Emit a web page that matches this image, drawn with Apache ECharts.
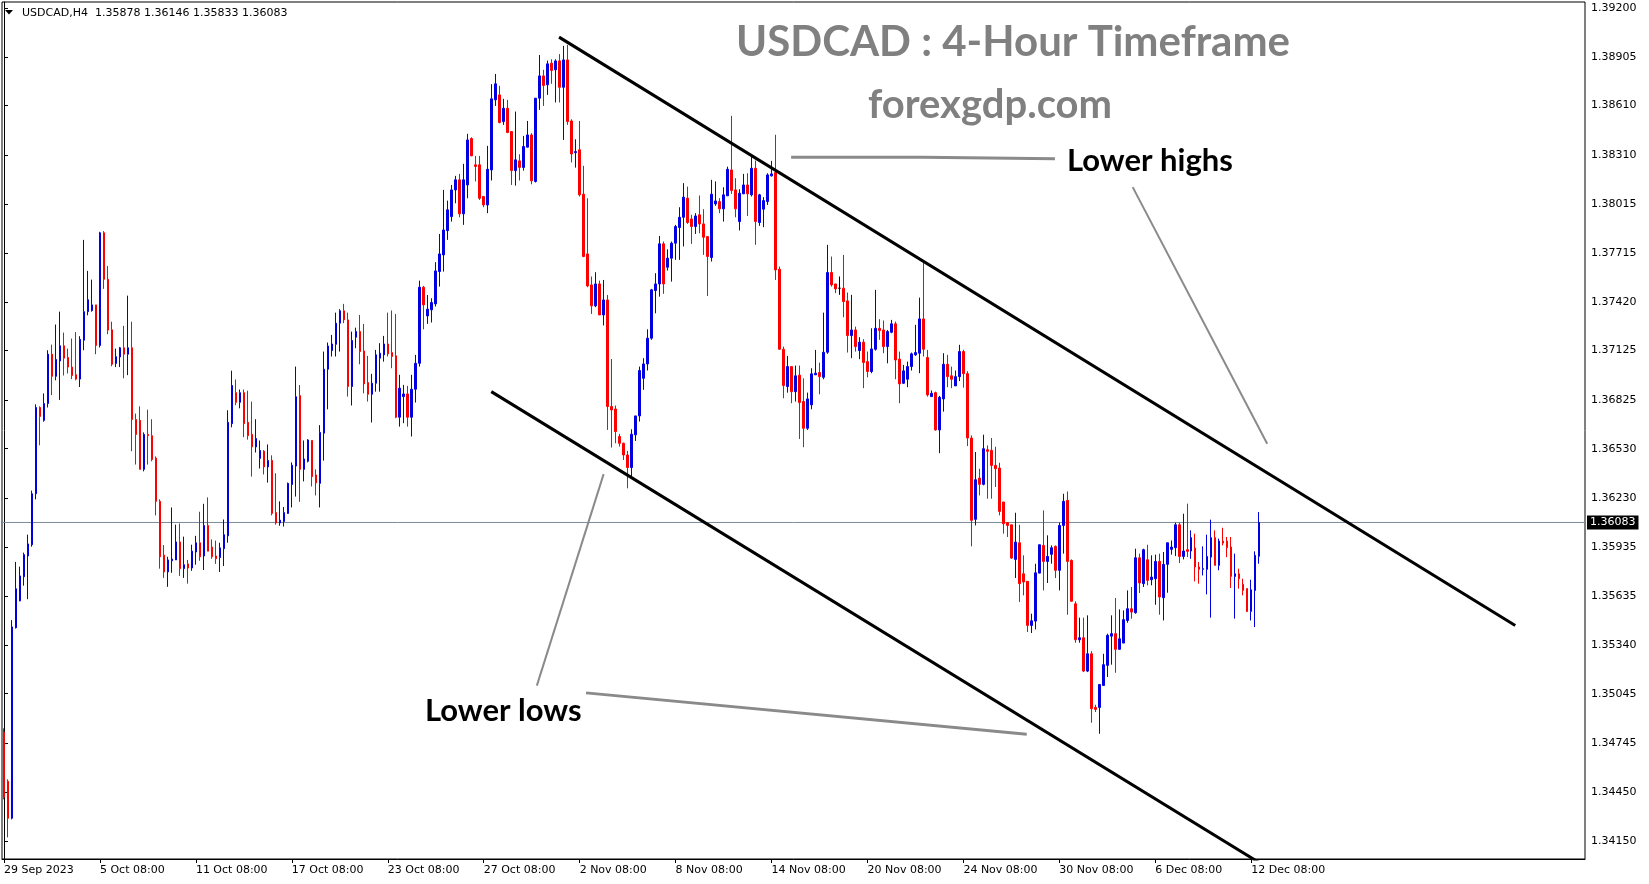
<!DOCTYPE html>
<html><head><meta charset="utf-8">
<script src="https://cdn.jsdelivr.net/npm/echarts@6/dist/echarts.min.js"></script>
<style>html,body{margin:0;padding:0;background:#fff}#chart{width:1649px;height:884px}</style>
</head><body><div id="chart"></div>
<script>
// ---- OHLC data (USDCAD H4) ----
const openP = [
1.34811,1.34514,1.34290,1.35445,1.35608,1.35754,1.35880,1.35948,1.36257,1.36780,
1.36702,1.36804,1.37103,1.36969,1.37062,1.37154,1.37083,1.37025,1.36979,1.36952,
1.37188,1.37361,1.37368,1.37402,1.37156,1.37839,1.37557,1.37251,1.37047,1.37086,
1.37142,1.37103,1.37142,1.36707,1.36702,1.36405,1.36617,1.36609,1.36473,1.36211,
1.35885,1.35783,1.35851,1.35856,1.35965,1.35803,1.35832,1.35807,1.35904,1.35960,
1.35880,1.36065,1.35934,1.35880,1.35870,1.35924,1.36002,1.36682,1.36870,1.36811,
1.36870,1.36690,1.36617,1.36541,1.36471,1.36515,1.36420,1.36459,1.36143,1.36080,
1.36089,1.36138,1.36313,1.36425,1.36852,1.36405,1.36454,1.36580,1.36371,1.36320,
1.36624,1.37012,1.37125,1.37163,1.37291,1.37366,1.37311,1.36907,1.37206,1.37240,
1.37123,1.36931,1.36860,1.36927,1.37079,1.37099,1.37165,1.37113,1.37093,1.36721,
1.36846,1.36862,1.36721,1.36891,1.37048,1.37509,1.37335,1.37372,1.37408,1.37604,
1.37705,1.37852,1.37937,1.38099,1.38160,1.37954,1.38129,1.38410,1.38251,1.38251,
1.38059,1.38008,1.38220,1.38645,1.38675,1.38513,1.38594,1.38453,1.38216,1.38275,
1.38235,1.38358,1.38432,1.38150,1.38655,1.38790,1.38736,1.38867,1.38827,1.38881,
1.38721,1.38887,1.38517,1.38325,1.38342,1.38073,1.37711,1.37523,1.37396,1.37529,
1.37341,1.37432,1.36786,1.36771,1.36604,1.36563,1.36492,1.36416,1.36614,1.36729,
1.36957,1.37044,1.37200,1.37489,1.37529,1.37772,1.37630,1.37685,1.37776,1.37871,
1.37933,1.38049,1.37923,1.37877,1.37948,1.37893,1.37816,1.37689,1.38014,1.38028,
1.37984,1.38063,1.38220,1.38099,1.37907,1.38075,1.38129,1.38069,1.38230,1.37901,
1.37982,1.38028,1.38184,1.38204,1.37618,1.37133,1.36907,1.37028,1.36876,1.36976,
1.36816,1.36654,1.36796,1.36978,1.36992,1.36963,1.37115,1.37598,1.37529,1.37503,
1.37503,1.37426,1.37216,1.37250,1.37125,1.37176,1.37058,1.36998,1.37133,1.37260,
1.37250,1.37149,1.37236,1.37287,1.37073,1.36927,1.36951,1.37028,1.37099,1.37109,
1.37317,1.37083,1.36846,1.36870,1.36644,1.36832,1.37042,1.36972,1.36911,1.36967,
1.37119,1.36985,1.36595,1.36102,1.36352,1.36314,1.36524,1.36520,1.36429,1.36413,
1.36207,1.36082,1.36069,1.35859,1.35960,1.35772,1.35726,1.35459,1.35485,1.35776,
1.35944,1.35847,1.35890,1.35938,1.35793,1.36065,1.36217,1.35853,1.35590,1.35372,
1.35384,1.35182,1.35287,1.34962,1.34962,1.35095,1.35217,1.35394,1.35409,1.35314,
1.35352,1.35489,1.35560,1.35536,1.35869,1.35712,1.35857,1.35736,1.35742,1.35847,
1.35627,1.35829,1.35920,1.35930,1.36069,1.35877,1.35918,1.35910,1.35928,1.35813,
1.35799,1.35799,1.35873,1.35991,1.35823,1.35970,1.35970,1.35934,1.35756,1.35772,
1.35708,1.35682,1.35544,1.35671,1.35878];
const closeP = [
1.34417,1.34290,1.35450,1.35681,1.35759,1.35888,1.35953,1.36257,1.36780,1.36726,
1.36804,1.37103,1.36969,1.37071,1.37154,1.37079,1.37025,1.36974,1.36952,1.37193,
1.37361,1.37433,1.37402,1.37156,1.37839,1.37557,1.37249,1.37042,1.37088,1.37142,
1.37103,1.37142,1.36707,1.36617,1.36405,1.36617,1.36609,1.36464,1.36211,1.35875,
1.35783,1.35856,1.35861,1.35965,1.35803,1.35827,1.35807,1.35909,1.35960,1.35875,
1.36065,1.35909,1.35875,1.35863,1.35929,1.36009,1.36690,1.36913,1.36811,1.36870,
1.36682,1.36609,1.36541,1.36592,1.36520,1.36420,1.36459,1.36138,1.36080,1.36097,
1.36143,1.36320,1.36430,1.36845,1.36405,1.36468,1.36583,1.36361,1.36323,1.36629,
1.37012,1.37153,1.37165,1.37291,1.37366,1.37311,1.36907,1.37186,1.37240,1.37119,
1.36923,1.36860,1.36927,1.37099,1.37109,1.37165,1.37105,1.37089,1.36721,1.36897,
1.36862,1.36721,1.36891,1.37048,1.37509,1.37402,1.37376,1.37416,1.37608,1.37711,
1.37856,1.37978,1.38099,1.38160,1.37954,1.38160,1.38402,1.38305,1.38241,1.38048,
1.38008,1.38224,1.38651,1.38742,1.38507,1.38594,1.38447,1.38216,1.38281,1.38235,
1.38362,1.38432,1.38154,1.38655,1.38790,1.38732,1.38863,1.38823,1.38881,1.38721,
1.38887,1.38513,1.38317,1.38331,1.38069,1.37695,1.37517,1.37396,1.37529,1.37341,
1.37432,1.36786,1.36765,1.36634,1.36563,1.36492,1.36416,1.36618,1.36729,1.37004,
1.37044,1.37200,1.37493,1.37529,1.37772,1.37529,1.37685,1.37776,1.37877,1.37933,
1.38055,1.37901,1.37877,1.37941,1.37893,1.37812,1.37695,1.38073,1.38032,1.37984,
1.38069,1.38224,1.38095,1.37984,1.38079,1.38129,1.38075,1.38230,1.37907,1.38069,
1.38034,1.38190,1.38196,1.37614,1.37133,1.36913,1.37028,1.36876,1.36972,1.36810,
1.36654,1.36832,1.36984,1.36988,1.36967,1.37115,1.37598,1.37523,1.37499,1.37503,
1.37422,1.37216,1.37250,1.37149,1.37176,1.37052,1.36998,1.37135,1.37260,1.37246,
1.37149,1.37240,1.37287,1.37068,1.36923,1.37002,1.37028,1.37105,1.37113,1.37317,
1.37133,1.36856,1.36866,1.36644,1.36842,1.37042,1.36967,1.36951,1.36967,1.37119,
1.36985,1.36595,1.36096,1.36342,1.36314,1.36530,1.36514,1.36429,1.36409,1.36150,
1.36075,1.36065,1.35867,1.35964,1.35712,1.35722,1.35459,1.35487,1.35778,1.35948,
1.35847,1.35877,1.35930,1.35793,1.36065,1.36211,1.35847,1.35605,1.35372,1.35384,
1.35182,1.35287,1.34954,1.34950,1.35101,1.35221,1.35399,1.35409,1.35314,1.35378,
1.35494,1.35560,1.35540,1.35869,1.35716,1.35918,1.35732,1.35752,1.35847,1.35631,
1.35829,1.35960,1.35934,1.36069,1.35877,1.35910,1.35908,1.35991,1.35813,1.35799,
1.35803,1.35877,1.35991,1.35823,1.35970,1.35958,1.35930,1.35756,1.35772,1.35742,
1.35671,1.35544,1.35675,1.35884,1.36083];
const lowP = [
1.34405,1.34174,1.34283,1.35440,1.35605,1.35700,1.35618,1.35936,1.36223,1.36551,
1.36694,1.36780,1.36855,1.36945,1.36826,1.36974,1.36986,1.36952,1.36945,1.36904,
1.37127,1.37339,1.37361,1.37103,1.37144,1.37499,1.37224,1.37030,1.37025,1.37025,
1.36957,1.36976,1.36515,1.36434,1.36405,1.36393,1.36434,1.36454,1.36126,1.35803,
1.35747,1.35693,1.35778,1.35856,1.35759,1.35747,1.35712,1.35790,1.35827,1.35851,
1.35795,1.35909,1.35863,1.35832,1.35783,1.35819,1.35960,1.36660,1.36794,1.36775,
1.36600,1.36585,1.36361,1.36507,1.36410,1.36374,1.36325,1.36126,1.36070,1.36063,
1.36058,1.36135,1.36174,1.36240,1.36208,1.36332,1.36447,1.36301,1.36247,1.36174,
1.36458,1.36769,1.37089,1.37089,1.37119,1.37291,1.36846,1.36792,1.37139,1.37042,
1.36866,1.36816,1.36689,1.36876,1.36876,1.37058,1.37089,1.37018,1.36715,1.36664,
1.36685,1.36664,1.36604,1.36810,1.37028,1.37254,1.37287,1.37295,1.37392,1.37513,
1.37604,1.37796,1.37907,1.38018,1.37933,1.37887,1.38048,1.38305,1.38150,1.38038,
1.37994,1.37958,1.38156,1.38608,1.38503,1.38493,1.38443,1.38129,1.38125,1.38156,
1.38216,1.38358,1.38133,1.38144,1.38584,1.38608,1.38675,1.38742,1.38629,1.38629,
1.38402,1.38493,1.38265,1.38234,1.38059,1.37691,1.37509,1.37347,1.37388,1.37341,
1.37277,1.36644,1.36537,1.36563,1.36543,1.36462,1.36290,1.36357,1.36577,1.36695,
1.36887,1.37004,1.37190,1.37351,1.37452,1.37469,1.37610,1.37543,1.37675,1.37675,
1.37756,1.37893,1.37772,1.37832,1.37836,1.37705,1.37456,1.37665,1.38002,1.37958,
1.37907,1.38063,1.38075,1.37933,1.37853,1.38075,1.37941,1.38059,1.37766,1.37881,
1.37873,1.38008,1.38180,1.37553,1.37129,1.36836,1.36870,1.36806,1.36816,1.36589,
1.36539,1.36644,1.36769,1.36978,1.36860,1.36951,1.37105,1.37513,1.37473,1.37463,
1.37327,1.37113,1.37079,1.37119,1.37073,1.36897,1.36963,1.36988,1.37125,1.37190,
1.37109,1.37048,1.37230,1.36951,1.36806,1.36923,1.36903,1.37004,1.37093,1.36988,
1.37089,1.36846,1.36846,1.36640,1.36503,1.36755,1.36903,1.36897,1.36911,1.36940,
1.36900,1.36546,1.35938,1.36065,1.36247,1.36308,1.36227,1.36227,1.36298,1.36126,
1.36015,1.35995,1.35863,1.35746,1.35601,1.35641,1.35419,1.35413,1.35435,1.35776,
1.35671,1.35716,1.35833,1.35746,1.35671,1.35894,1.35524,1.35605,1.35354,1.35354,
1.35176,1.35176,1.34869,1.34934,1.34802,1.35095,1.35146,1.35221,1.35172,1.35314,
1.35352,1.35475,1.35500,1.35530,1.35655,1.35692,1.35702,1.35702,1.35584,1.35524,
1.35489,1.35657,1.35888,1.35879,1.35837,1.35859,1.35873,1.35863,1.35726,1.35712,
1.35762,1.35647,1.35506,1.35823,1.35793,1.35944,1.35873,1.35686,1.35500,1.35682,
1.35641,1.35540,1.35489,1.35449,1.35833];
const highP = [
1.34835,1.34526,1.35491,1.35844,1.35815,1.35900,1.36009,1.36276,1.36799,1.36787,
1.36865,1.37127,1.37161,1.37283,1.37361,1.37234,1.37137,1.37198,1.37237,1.37212,
1.37796,1.37608,1.37555,1.37402,1.37845,1.37849,1.37638,1.37300,1.37137,1.37147,
1.37275,1.37458,1.37300,1.36743,1.36787,1.36629,1.36767,1.36709,1.36483,1.36223,
1.35946,1.35875,1.36174,1.36070,1.36077,1.35997,1.35856,1.35948,1.36002,1.36148,
1.36196,1.36235,1.35980,1.35973,1.35960,1.36101,1.36763,1.37003,1.36950,1.36889,
1.36889,1.36882,1.36816,1.36709,1.36580,1.36522,1.36556,1.36490,1.36381,1.36211,
1.36177,1.36325,1.36447,1.37028,1.36916,1.36580,1.36588,1.36580,1.36405,1.36673,
1.37119,1.37174,1.37220,1.37355,1.37376,1.37408,1.37355,1.37240,1.37264,1.37341,
1.37287,1.37093,1.36984,1.37129,1.37170,1.37214,1.37355,1.37368,1.37347,1.36978,
1.36917,1.36911,1.36978,1.37099,1.37549,1.37517,1.37462,1.37442,1.37661,1.37832,
1.38099,1.38034,1.38129,1.38184,1.38196,1.38257,1.38439,1.38418,1.38305,1.38305,
1.38059,1.38366,1.38740,1.38802,1.38730,1.38651,1.38645,1.38453,1.38574,1.38315,
1.38426,1.38517,1.38443,1.38655,1.38917,1.38827,1.38883,1.38891,1.38891,1.38922,
1.38972,1.38978,1.38527,1.38406,1.38517,1.38245,1.38048,1.37574,1.37600,1.37549,
1.37553,1.37462,1.37074,1.36792,1.36620,1.36567,1.36517,1.36648,1.36729,1.37028,
1.37079,1.37254,1.37499,1.37594,1.37820,1.37786,1.37739,1.37786,1.37887,1.37994,
1.38140,1.38119,1.37948,1.37958,1.38065,1.37982,1.37816,1.38160,1.38150,1.38049,
1.38115,1.38240,1.38548,1.38170,1.38103,1.38196,1.38200,1.38305,1.38277,1.38075,
1.38055,1.38200,1.38275,1.38433,1.37634,1.37149,1.37093,1.37028,1.37034,1.37034,
1.36957,1.36870,1.37018,1.37129,1.37052,1.37355,1.37766,1.37695,1.37529,1.37574,
1.37705,1.37477,1.37463,1.37270,1.37206,1.37194,1.37119,1.37260,1.37493,1.37315,
1.37307,1.37250,1.37311,1.37301,1.37119,1.37038,1.37058,1.37113,1.37281,1.37446,
1.37665,1.37129,1.36883,1.36876,1.36850,1.37109,1.37099,1.37028,1.37004,1.37160,
1.37130,1.37000,1.36611,1.36510,1.36409,1.36615,1.36550,1.36595,1.36542,1.36445,
1.36207,1.36086,1.36069,1.36142,1.36069,1.35884,1.35726,1.35530,1.35833,1.35948,
1.36156,1.36005,1.35944,1.35944,1.36082,1.36257,1.36271,1.35859,1.35605,1.35506,
1.35506,1.35520,1.35303,1.34978,1.35101,1.35287,1.35409,1.35520,1.35625,1.35556,
1.35550,1.35671,1.35692,1.35924,1.35894,1.35924,1.35948,1.35884,1.35888,1.35894,
1.35904,1.35960,1.35974,1.36082,1.36082,1.36136,1.36197,1.36035,1.36015,1.35843,
1.35938,1.36009,1.36100,1.36035,1.35985,1.36051,1.35995,1.35995,1.35894,1.35803,
1.35742,1.35682,1.35736,1.35908,1.36146];

// ---- axis / label content ----
const xTickLabels = ['29 Sep 2023','5 Oct 08:00','11 Oct 08:00','17 Oct 08:00','23 Oct 08:00','27 Oct 08:00',
  '2 Nov 08:00','8 Nov 08:00','14 Nov 08:00','20 Nov 08:00','24 Nov 08:00','30 Nov 08:00','6 Dec 08:00','12 Dec 08:00'];
const barsPerTick = 24;
const totalSlots = 396;   // bars plus empty chart-shift space on the right
const yTickValues = [1.39200,1.38905,1.38610,1.38310,1.38015,1.37715,1.37420,1.37125,1.36825,1.36530,
  1.36230,1.35935,1.35635,1.35340,1.35045,1.34745,1.34450,1.34150];
const yMin = 1.34043, yMax = 1.39238;
const lastPrice = 1.36083;
const lastPriceText = '1.36083';
const headerText = 'USDCAD,H4  1.35878 1.36146 1.35833 1.36083';

// drawn objects: [bar index, price]
const upperChannel = [[138.85, 1.39025], [378.05, 1.35458]];
const lowerChannel = [[121.9, 1.36876], [316.7, 1.33981]];
const grayHighsFlat = [[196.9, 1.38297], [229.9, 1.38297], [229.9, 1.38290], [262.9, 1.38288]];
const grayHighsDiag = [[282.35, 1.38116], [316.0, 1.36560]];
const grayLowsDiag = [[150.0, 1.36376], [133.3, 1.35094]];
const grayLowsFlat = [[145.6, 1.35050], [255.85, 1.34799]];
const priceLine = [[-0.5, lastPrice], [totalSlots - 0.5, lastPrice]];

const categories = Array.from({length: totalSlots}, (_, i) => String(i));
const candles = openP.map((o, i) => [o, closeP[i], lowP[i], highP[i]]);

const chart = echarts.init(document.getElementById('chart'), null, {renderer: 'canvas'});
const axisFont = 'DejaVu Sans';
const showTick = (idx) => idx % barsPerTick === 0 && idx / barsPerTick < xTickLabels.length;

function lineSeries(data, color, width, z) {
  return {type: 'line', xAxisIndex: 1, yAxisIndex: 0, data: data, symbol: 'none', silent: true,
    clip: true, lineStyle: {color: color, width: width}, z: z || 3, animation: false};
}

const priceSeries = lineSeries(priceLine, '#7d8b99', 1, 1);
priceSeries.endLabel = {show: true, formatter: lastPriceText, distance: 2, backgroundColor: '#000', color: '#fff',
  fontFamily: axisFont, fontSize: 11, padding: [2, 3, 1, 3]};
priceSeries.clip = false;

chart.setOption({
  animation: false,
  backgroundColor: '#ffffff',
  grid: {left: 2, top: 2, right: 64, bottom: 25, show: true, borderColor: '#000', borderWidth: 1, backgroundColor: '#fff'},
  xAxis: [{
    type: 'category', data: categories, boundaryGap: true,
    axisLine: {show: true, lineStyle: {color: '#000', width: 1}},
    axisTick: {show: true, alignWithLabel: true, interval: showTick, length: 4, lineStyle: {color: '#000'}},
    axisLabel: {show: true, interval: showTick, align: 'left', margin: 6, color: '#000',
      fontFamily: axisFont, fontSize: 11,
      formatter: (v, idx) => xTickLabels[Math.round(idx / barsPerTick)] || ''},
    splitLine: {show: false}
  }, {
    type: 'value', min: -0.5, max: totalSlots - 0.5, show: false
  }],
  yAxis: [{
    type: 'value', position: 'right', min: yMin, max: yMax, scale: true,
    axisLine: {show: true, lineStyle: {color: '#000'}},
    axisTick: {show: true, length: 4, customValues: yTickValues, lineStyle: {color: '#000'}},
    axisLabel: {show: true, customValues: yTickValues, margin: 6, color: '#000', fontFamily: axisFont, fontSize: 11,
      formatter: v => v.toFixed(5)},
    splitLine: {show: false}
  }],
  series: [
    priceSeries,
    {
      type: 'candlestick', xAxisIndex: 0, yAxisIndex: 0, data: candles, barWidth: 2, z: 2,
      itemStyle: {color: '#0000e0', color0: '#ff0000', borderColor: '#0000e0', borderColor0: '#ff0000',
        borderColorDoji: '#000000', borderWidth: 1}
    },
    lineSeries(upperChannel, '#000', 3),
    lineSeries(lowerChannel, '#000', 3),
    lineSeries(grayHighsFlat, '#8a8a8a', 3),
    lineSeries(grayHighsDiag, '#8a8a8a', 2),
    lineSeries(grayLowsDiag, '#8a8a8a', 2),
    lineSeries(grayLowsFlat, '#8a8a8a', 3)
  ],
  graphic: [
    {type: 'polygon', shape: {points: [[5, 10], [13, 10], [9, 14.5]]}, style: {fill: '#000'}, z: 10},
    {type: 'text', x: 22, y: 13, z: 10, style: {text: headerText, fontFamily: axisFont, fontSize: 11, fill: '#000',
      align: 'left', verticalAlign: 'middle'}},
    {type: 'text', x: 1013, y: 42, z: 10, style: {text: 'USDCAD : 4-Hour Timeframe', fontFamily: 'Lato',
      fontWeight: 'bold', fontSize: 42, fill: '#808080', align: 'center', verticalAlign: 'middle'}},
    {type: 'text', x: 990, y: 105, z: 10, style: {text: 'forexgdp.com', fontFamily: 'Lato',
      fontWeight: 'bold', fontSize: 40, fill: '#808080', align: 'center', verticalAlign: 'middle'}},
    {type: 'text', x: 1067, y: 161, z: 10, style: {text: 'Lower highs', fontFamily: 'Lato',
      fontWeight: 'bold', fontSize: 31, fill: '#000', align: 'left', verticalAlign: 'middle'}},
    {type: 'text', x: 425, y: 711, z: 10, style: {text: 'Lower lows', fontFamily: 'Lato',
      fontWeight: 'bold', fontSize: 31, fill: '#000', align: 'left', verticalAlign: 'middle'}}
  ]
});
</script></body></html>
